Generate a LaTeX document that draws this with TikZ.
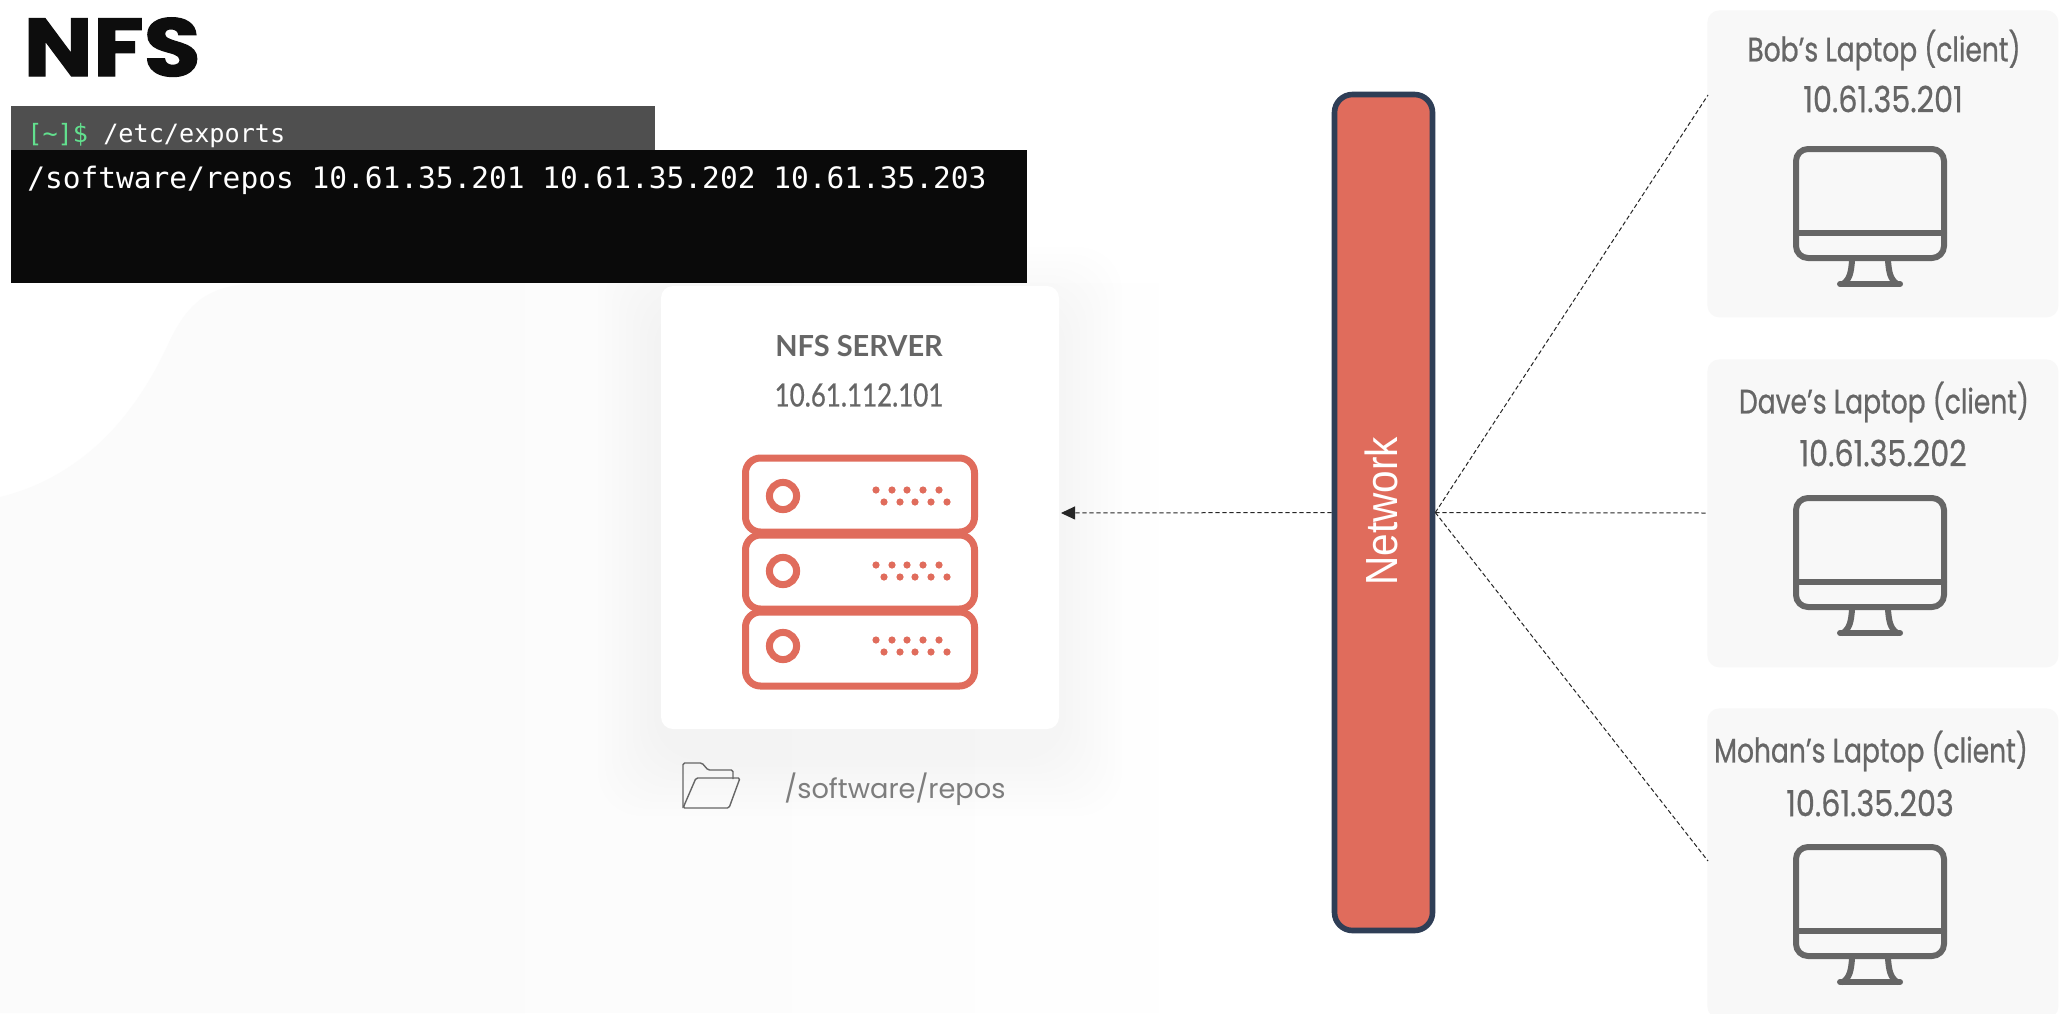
\documentclass[tikz,border=0pt]{standalone}
\usepackage{fontspec}
\usetikzlibrary{arrows.meta}
\setmainfont{Poppins}
\newfontfamily\titlefont[FakeStretch=1.13,FakeBold=1.5]{Poppins}
\newfontfamily\cardfont[FakeStretch=0.78,FakeBold=0.6]{Poppins}
\newfontfamily\cardipfont[FakeStretch=0.84,FakeBold=0.6]{Poppins}
\newfontfamily\serverfont{Lato}
\newfontfamily\serveripfont[FakeStretch=0.81,FakeBold=0.6]{Lato}
\newfontfamily\termfont{DejaVu Sans Mono}
\newfontfamily\netfont[FakeStretch=0.9]{Liberation Sans}
\definecolor{ink}{HTML}{666666}
\definecolor{coral}{HTML}{E06C5C}
\definecolor{navy}{HTML}{2F3E56}
\definecolor{pale}{HTML}{F8F8F8}
\definecolor{mist}{HTML}{FBFBFB}
\definecolor{termgreen}{HTML}{62E08E}
\tikzset{
  clientcard/.style={draw=none,fill=pale,rounded corners=6pt,minimum width=175.5pt,inner sep=0pt,anchor=north west},
  clientlabel/.style={font=\cardfont\fontsize{17}{17}\selectfont,text=ink,inner sep=0pt},
  clientip/.style={font=\cardipfont\fontsize{18}{18}\selectfont,text=ink,inner sep=0pt},
  serverlabel/.style={font=\serveripfont\fontsize{16}{16}\selectfont,text=ink,inner sep=0pt},
  link/.style={draw=black!85,line width=0.5pt,dash pattern=on 2.2pt off 1.3pt},
  srv/.style={draw=coral,line width=3.5pt,rounded corners=7.5pt,fill=white},
  mon/.style={draw=ink,line width=3pt,line join=round,line cap=round},
  term/.style={font=\termfont\fontsize{14.75}{14.75}\selectfont,text=white,inner sep=0pt,anchor=base west}
}
\newcommand{\monitor}[1]{%
  \begin{scope}[yshift=#1]
    \draw[mon,rounded corners=6pt] (1796,149) rectangle (1944,258);
    \draw[mon] (1796,233) -- (1944,233);
    \draw[mon] (1852,261) .. controls (1851,272) and (1850,279) .. (1843,284);
    \draw[mon] (1888,261) .. controls (1889,272) and (1890,279) .. (1897,284);
    \draw[mon] (1840,284) -- (1900,284);
  \end{scope}}
\newcommand{\srvunit}[2]{%
  \draw[srv] (745.5,#1) rectangle (974.5,#1+74);
  \draw[coral,line width=3.5pt,fill=white] (783,#2) circle (6.8pt);
  \foreach \dx in {876,892,907,923,939} \fill[coral] (\dx,#2-6) circle (1.8pt);
  \foreach \dx in {884,900,915,931,947} \fill[coral] (\dx,#2+6) circle (1.8pt);}
\begin{document}
\begin{tikzpicture}[x=0.5pt,y=-0.5pt]
\useasboundingbox (0,0) rectangle (2060,1013);
\fill[white] (0,0) rectangle (2060,1013);
% faint background wash
\path[left color=mist,right color=white,middle color=mist!85!white] (0,497) .. controls (70,480) and (130,430) .. (170,340)
  .. controls (190,300) and (210,285) .. (260,283) -- (1250,283) -- (1250,1013) -- (0,1013) -- cycle;
% server card shadow
\foreach \g in {63,56,49,42,35,28,21,14,7}
  \fill[black,opacity=0.004,rounded corners=22pt] (661-\g,286-\g+24) rectangle (1059+\g,729+\g+24);
% terminal
\fill[fill=black!69] (11,106) rectangle (655,150);
\fill[fill=black!96] (11,150) rectangle (1027,283);
\node[term,font=\termfont\fontsize{12.6}{12.6}\selectfont] (prompt) at (27,142) {\textcolor{termgreen}{[\textasciitilde]\$} /etc/exports};
\node[term] (exports) at (27,188) {/software/repos 10.61.35.201 10.61.35.202 10.61.35.203};
% title
\node[font=\titlefont\bfseries\fontsize{41}{41}\selectfont,text=black!95,inner sep=0pt,anchor=base west] (title) at (23,76) {NFS};
% server card
\node[fill=white,rounded corners=6pt,minimum width=199pt,minimum height=221.5pt,inner sep=0pt] (server) at (860,507.5) {};
\node[serverlabel,font=\serverfont\bfseries\fontsize{14.5}{14.5}\selectfont] (srvname) at (859,346) {NFS SERVER};
\node[serverlabel] (srvip) at (859,395) {10.61.112.101};
\srvunit{612}{646}
\srvunit{535}{571}
\srvunit{458}{496}
% folder
\draw[ink,line width=0.7pt,line join=round,rounded corners=0.8pt] (683,808) -- (683,763) -- (702,763) -- (708,770) -- (733,770) -- (733,779);
\draw[ink,line width=0.7pt,line join=round,rounded corners=0.8pt] (683,808) -- (696,778) -- (740,778) -- (729,808) -- cycle;
\node[font=\fontsize{13.6}{13.6}\selectfont,text=ink!85,inner sep=0pt,anchor=base west] (folder) at (784,798) {/software/repos};
% network
\node[draw=navy,fill=coral,line width=2.8pt,rounded corners=9pt,minimum width=49pt,minimum height=418pt,inner sep=0pt] (net) at (1383.5,512.5) {};
\node[rotate=90,font=\netfont\fontsize{22.5}{22.5}\selectfont,text=white,inner sep=0pt] (netlabel) at (1381,511) {Network};
% client cards
\node[clientcard,minimum height=153.5pt] (bob) at (1707,10) {};
\node[clientcard,minimum height=154pt] (dave) at (1707,359) {};
\node[clientcard,minimum height=155pt] (mohan) at (1707,708) {};
\node[clientlabel] (bobname) at (1884,50) {Bob’s Laptop (client)};
\node[clientip] (bobip) at (1883,99) {10.61.35.201};
\node[clientlabel] (davename) at (1884,402) {Dave’s Laptop (client)};
\node[clientip] (daveip) at (1883,453) {10.61.35.202};
\node[clientlabel] (mohanname) at (1871,751) {Mohan’s Laptop (client)};
\node[clientip] (mohanip) at (1870,803) {10.61.35.203};
\monitor{0}
\monitor{-174.5pt}
\monitor{-349pt}
% connectors
\coordinate (bobend) at (1708,95);
\coordinate (daveend) at (1708,513);
\coordinate (mohanend) at (1708,861);
\coordinate (srvtip) at (1061,513);
\draw[link] (net.east) -- (bobend);
\draw[link] (net.east) -- (daveend);
\draw[link] (net.east) -- (mohanend);
\draw[link,-{Triangle[length=7pt,width=6.5pt]}] (net.west) -- (srvtip);
\end{tikzpicture}
\end{document}
